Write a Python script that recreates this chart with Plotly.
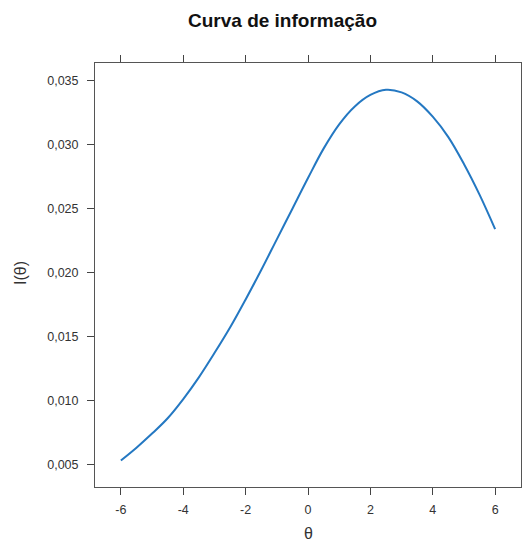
import plotly.graph_objects as go

theta = [-6, -5.5, -5, -4.5, -4, -3.5, -3, -2.5, -2, -1.5, -1, -0.5, 0,
         0.5, 1, 1.5, 2, 2.5, 3, 3.5, 4, 4.5, 5, 5.5, 6]
info = [0.0053, 0.0063, 0.0074, 0.0086, 0.0101, 0.0118, 0.0137, 0.0157,
        0.0179, 0.0202, 0.0226, 0.0250, 0.0274, 0.0297, 0.0316, 0.0330,
        0.0339, 0.0343, 0.0341, 0.0334, 0.0322, 0.0306, 0.0285, 0.0261, 0.0234]
x_ticks = [-6, -4, -2, 0, 2, 4, 6]
y_ticks = [0.005, 0.010, 0.015, 0.020, 0.025, 0.030, 0.035]
y_labels = ["0,005", "0,010", "0,015", "0,020", "0,025", "0,030", "0,035"]

W, H = 522, 542
L, R, T, B = 95, 1, 63, 55

fig = go.Figure()
fig.add_trace(go.Scatter(x=theta, y=info, mode="lines",
                         line=dict(color="#2478c2", width=2, shape="spline"),
                         showlegend=False, hoverinfo="skip"))

FONT = "Liberation Sans, Arial, sans-serif"
axis_font = dict(family=FONT, size=12.5, color="#333333")
fig.update_layout(
    width=W, height=H,
    margin=dict(l=L, r=R, t=T, b=B, autoexpand=False),
    paper_bgcolor="white", plot_bgcolor="white",
    xaxis=dict(range=[-6.83, 6.83], tickvals=x_ticks, ticktext=[str(v) for v in x_ticks],
               ticks="outside", ticklen=7, tickcolor="#444444", showline=True,
               linecolor="#555555", linewidth=1, mirror="ticks", showgrid=False,
               zeroline=False, tickfont=axis_font, automargin=False,
               ticklabelstandoff=4),
    yaxis=dict(range=[0.00322, 0.0364], tickvals=y_ticks, ticktext=y_labels,
               ticks="outside", ticklen=7, tickcolor="#444444", showline=True,
               linecolor="#555555", linewidth=1, mirror=True, showgrid=False,
               zeroline=False, tickfont=axis_font, automargin=False,
               ticklabelstandoff=6),
)
# title and axis titles positioned in pixels
fig.add_annotation(text="<b>Curva de informação</b>", xref="paper", yref="paper",
                   x=(282 - L) / (W - L - R), y=1 + (T - 20) / (H - T - B),
                   xanchor="center", yanchor="middle", showarrow=False,
                   font=dict(family=FONT, size=19, color="#111111"))
fig.add_annotation(text="θ", xref="paper", yref="paper",
                   x=(308 - L) / (W - L - R), y=-(533 - (H - B)) / (H - T - B),
                   xanchor="center", yanchor="middle", showarrow=False,
                   font=dict(family=FONT, size=16, color="#333333"))
fig.add_annotation(text="I(θ)", xref="paper", yref="paper",
                   x=-(L - 20) / (W - L - R), y=(H - B - 273) / (H - T - B),
                   xanchor="center", yanchor="middle", showarrow=False, textangle=-90,
                   font=dict(family=FONT, size=16, color="#333333"))
fig.write_html("out.html", config={"displayModeBar": False},
               post_script="document.body.style.margin='0';document.body.style.overflow='hidden';")
